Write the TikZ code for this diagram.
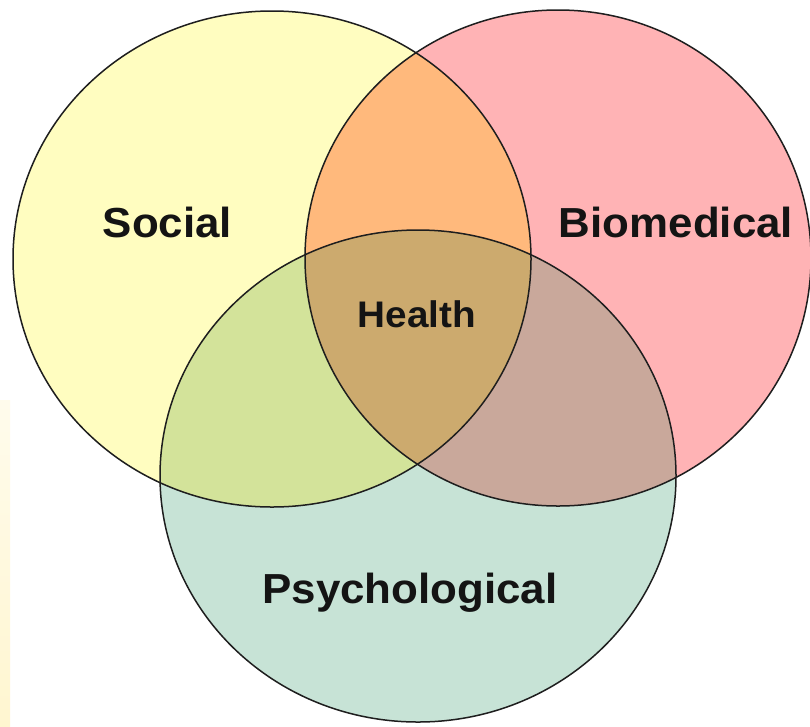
\documentclass[tikz,border=0pt]{standalone}
\usepackage{fontspec}
\setmainfont{Liberation Sans}
\definecolor{socfill}{HTML}{FFFDC0}
\definecolor{biofill}{HTML}{FFB3B5}
\definecolor{psyfill}{HTML}{C7E3D6}
\definecolor{sbfill}{HTML}{FFB97C}
\definecolor{spfill}{HTML}{D3E39A}
\definecolor{bpfill}{HTML}{C9A89B}
\definecolor{allfill}{HTML}{CCAA6E}
\definecolor{edge}{HTML}{1E1E1E}
\definecolor{strip}{HTML}{FFF6D0}
\begin{document}
\begin{tikzpicture}[x=1pt,y=-1pt,
  lbl/.style={font=\bfseries\fontsize{42}{50}\selectfont, anchor=base, xscale=1.045, text=black!92, inner sep=0pt},
  ring/.style={draw=edge, line width=1.5pt}]
\useasboundingbox (0,0) rectangle (810,726);
\fill[white] (0,0) rectangle (810,726);
\shade[top color=strip!40, bottom color=strip] (0,400) rectangle (10,726);
\coordinate (S) at (272,259);
\coordinate (B) at (558,258);
\coordinate (P) at (418,476);
\def\soc{(S) ellipse [x radius=259pt, y radius=248pt]}
\def\bio{(B) ellipse [x radius=253pt, y radius=248pt]}
\def\psy{(P) ellipse [x radius=258pt, y radius=246pt]}
\fill[socfill] \soc;
\fill[biofill] \bio;
\fill[psyfill] \psy;
\begin{scope}
  \clip \soc;
  \fill[sbfill] \bio;
  \fill[spfill] \psy;
\end{scope}
\begin{scope}
  \clip \bio;
  \fill[bpfill] \psy;
\end{scope}
\begin{scope}
  \clip \soc;
  \clip \bio;
  \fill[allfill] \psy;
\end{scope}
\draw[ring] \soc;
\draw[ring] \bio;
\draw[ring] \psy;
\node[lbl] (social) at (167.5,237) {Social};
\node[lbl] (biomedical) at (676,237) {Biomedical};
\node[lbl] (psychological) at (410,603) {Psychological};
\node[lbl, font=\bfseries\fontsize{37}{44}\selectfont] (health) at (417,327) {Health};
\end{tikzpicture}
\end{document}
